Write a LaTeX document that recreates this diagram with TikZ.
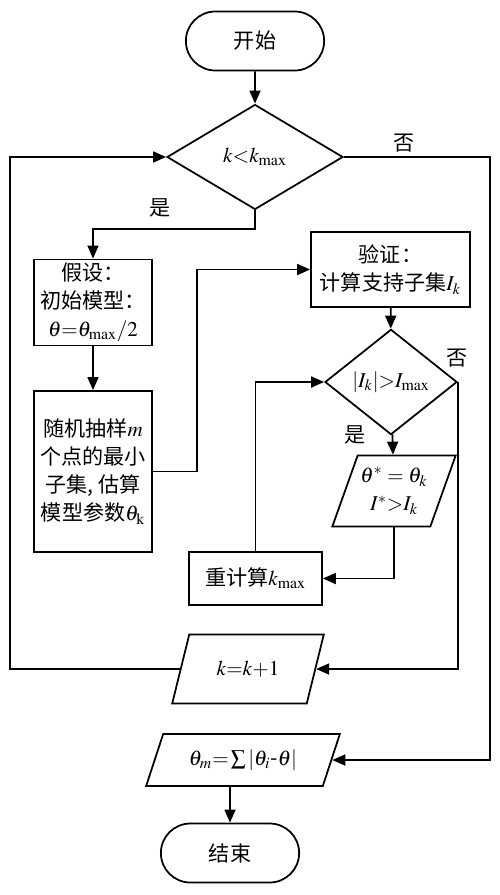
\documentclass[tikz,border=0pt]{standalone}
\usepackage{mathptmx}
\usepackage[no-math]{fontspec}
\setmainfont{Noto Sans CJK SC}
\usepackage{tikz}
\usetikzlibrary{
  shapes.geometric, shapes.misc, arrows.meta, positioning, calc
}
\newcommand{\flowfont}{\fontsize{12pt}{16pt}\selectfont}
\tikzset{
  termbox/.style={
    rounded rectangle, draw, line width=1pt, fill=white,
    minimum width=3cm, minimum height=1.18cm, font=\flowfont
  },
  procbox/.style={
    rectangle, draw, line width=1pt, align=center, fill=white,
    inner sep=2pt, font=\flowfont
  },
  decbox/.style={
    diamond, draw, line width=1pt, fill=white, inner sep=1pt,
    font=\flowfont
  },
  iobox/.style={
    trapezium, trapezium left angle=64, trapezium right angle=116,
    trapezium stretches=true, draw, line width=1pt, fill=white,
    align=center, inner sep=1pt, font=\flowfont
  },
  flowarrow/.style={
    -{Triangle[length=2.6mm, width=2.2mm]}, line width=1pt
  },
  flowline/.style={line width=1pt},
  flowlabel/.style={font=\flowfont},
}

\begin{document}
\begin{tikzpicture}
  \useasboundingbox (0,0) rectangle (10,-17.9);

  % Start / end
  \node[termbox] (start) at (5.1,-0.82) {开始};
  \node[termbox] (stop) at (4.6,-17.06) {结束};

  % Outer loop test
  \node[decbox, minimum width=3.52cm, minimum height=2.1cm]
    (loopchk) at (5.1,-3.14) {$k{<}k_{\max}$};

  % Hypothesis
  \node[procbox, minimum width=2.36cm, minimum height=1.58cm]
    (hyp) at (1.86,-6.05) {假设：\\初始模型：\\$\theta{=}\theta_{\max}/2$};

  % Random sample
  \node[procbox, minimum width=2.36cm, minimum height=3.22cm]
    (sample) at (1.86,-9.43)
    {随机抽样$m$\\个点的最小\\子集, 估算\\模型参数$\theta_{\mathrm{k}}$};

  % Verification
  \node[procbox, minimum width=3.18cm, minimum height=1.5cm]
    (verify) at (7.81,-5.39) {验证：\\计算支持子集$I_k$};

  % Inner test
  \node[decbox, minimum width=2.64cm, minimum height=1.5cm]
    (setchk) at (7.82,-7.64) {$|I_k|{>}I_{\max}$};

  % Keep best model
  \node[iobox, minimum width=2.48cm, minimum height=1.42cm]
    (best) at (7.88,-9.82) {$\theta^*=\theta_k$\\$I^*{>}I_k$};

  % Recompute k_max
  \node[procbox, minimum width=2.66cm, minimum height=1.06cm]
    (recalc) at (5.11,-11.57) {重计算$k_{\max}$};

  % Counter
  \node[iobox, minimum width=3.04cm, minimum height=1.38cm]
    (incr) at (4.96,-13.38) {$k{=}k{+}1$};

  % Result
  \node[iobox, minimum width=3.9cm, minimum height=1.04cm]
    (result) at (4.86,-15.2) {$\theta_m{=}\sum|\theta_i\mbox{-}\theta|$};

  % Branch labels
  \node[flowlabel] (no1) at (8.08,-2.86) {否};
  \node[flowlabel] (yes1) at (3.2,-4.16) {是};
  \node[flowlabel] (no2) at (9.14,-7.16) {否};
  \node[flowlabel] (yes2) at (7.1,-8.7) {是};

  % Loop rails
  \coordinate (lft) at (0.2,0);
  \coordinate (rgt) at (9.8,0);

  % Main flow
  \draw[flowarrow] (start) -- (loopchk);
  \draw[flowarrow] (loopchk.south) -- ++(0,-0.37) -| (hyp.north);
  \draw[flowarrow] (hyp) -- (sample);
  \draw[flowarrow] (sample.east) -- ++(0.88,0) |- (verify.west);
  \draw[flowarrow] (verify) -- (setchk);
  \draw[flowarrow] (setchk) -- (best);
  \draw[flowarrow] (best.south) |- (recalc.east);
  \draw[flowarrow] (recalc.north) |- (setchk.west);
  \draw[flowarrow] (setchk.east) |- (incr.east);
  \draw[flowarrow] (incr.west) -- (incr.west -| lft)
    -- (loopchk.west -| lft) -- (loopchk.west);
  \draw[flowarrow] (loopchk.east) -- (loopchk.east -| rgt)
    -- (result.east -| rgt) -- (result.east);
  \draw[flowarrow] (stop.north |- result.south) -- (stop.north);
\end{tikzpicture}
\end{document}
